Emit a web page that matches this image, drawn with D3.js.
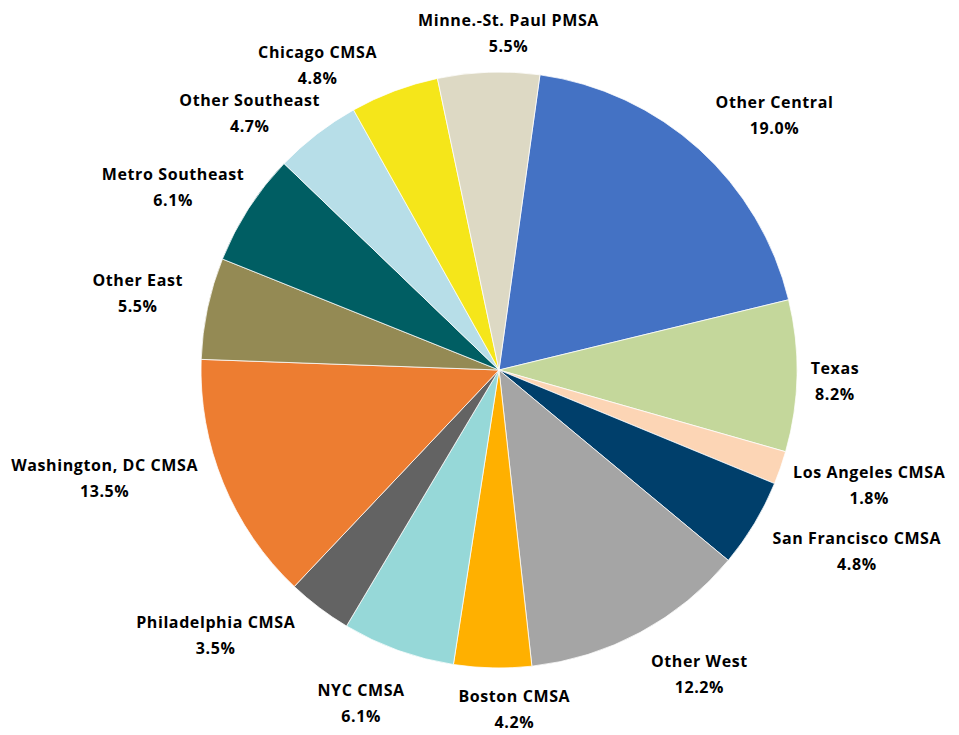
<!DOCTYPE html>
<html>
<head>
<meta charset="utf-8">
<script src="https://cdn.jsdelivr.net/npm/d3@7"></script>
<style>
  body { margin: 0; background: #fff; }
  text { font-family: "Open Sans", Lato, sans-serif; font-weight: bold; font-size: 16px; letter-spacing: 0.6px; fill: #000; }
</style>
</head>
<body>
<div id="svgContainer"></div>
<script>
// chart data, clockwise from the top right
var regions = ["Other Central", "Texas", "Los Angeles CMSA", "San Francisco CMSA", "Other West",
    "Boston CMSA", "NYC CMSA", "Philadelphia CMSA", "Washington, DC CMSA", "Other East",
    "Metro Southeast", "Other Southeast", "Chicago CMSA", "Minne.-St. Paul PMSA"];
var shares = [19.0, 8.2, 1.8, 4.8, 12.2, 4.2, 6.1, 3.5, 13.5, 5.5, 6.1, 4.7, 4.8, 5.5];
var colors = ["#4472C4", "#C4D79B", "#FCD5B5", "#003F6B", "#A5A5A5", "#FFB000", "#96D8D8",
    "#636363", "#ED7D31", "#948A54", "#005E63", "#B7DEE8", "#F5E61A", "#DDD9C4"];

// label placement tweaks (px) relative to a ring around the pie
var labelNudge = [[36, 10], [-21, 4], [33, -2], [52, -3], [31, -10], [23, -18], [-17, -3],
    [-68, -20], [-64, -27], [-12, -3], [-26, 11], [-31, 26], [-56, 29], [22, 20]];

var width = 959, height = 735;
var cx = 499, cy = 370, radius = 298;
var startOffset = 7.9 * Math.PI / 180;

var svg = d3.select("#svgContainer")
    .append("svg")
    .attr("width", width)
    .attr("height", height);

var g = svg.append("g")
    .attr("transform", "translate(" + cx + "," + cy + ")");

var pie = d3.pie()
    .sort(null)
    .value(function(d) { return d; })
    .startAngle(startOffset)
    .endAngle(startOffset + 2 * Math.PI);

var arcs = pie(shares);

var arc = d3.arc().innerRadius(0).outerRadius(radius);
var labelArc = d3.arc().innerRadius(357).outerRadius(357);

g.selectAll("path.slice")
    .data(arcs)
    .enter()
    .append("path")
    .attr("class", "slice")
    .attr("d", arc)
    .attr("fill", function(d, i) { return colors[i]; })
    .attr("stroke", "#fff")
    .attr("stroke-width", 0.75);

var labels = g.selectAll("g.label")
    .data(arcs)
    .enter()
    .append("g")
    .attr("class", "label")
    .attr("transform", function(d, i) {
        var c = labelArc.centroid(d);
        return "translate(" + (c[0] + labelNudge[i][0]) + "," + (c[1] + labelNudge[i][1]) + ")";
    });

labels.append("text")
    .attr("text-anchor", "middle")
    .attr("dominant-baseline", "central")
    .attr("y", -13)
    .text(function(d, i) { return regions[i]; });

labels.append("text")
    .attr("text-anchor", "middle")
    .attr("dominant-baseline", "central")
    .attr("y", 13)
    .text(function(d) { return d3.format(".1f")(d.data) + "%"; });
</script>
</body>
</html>
